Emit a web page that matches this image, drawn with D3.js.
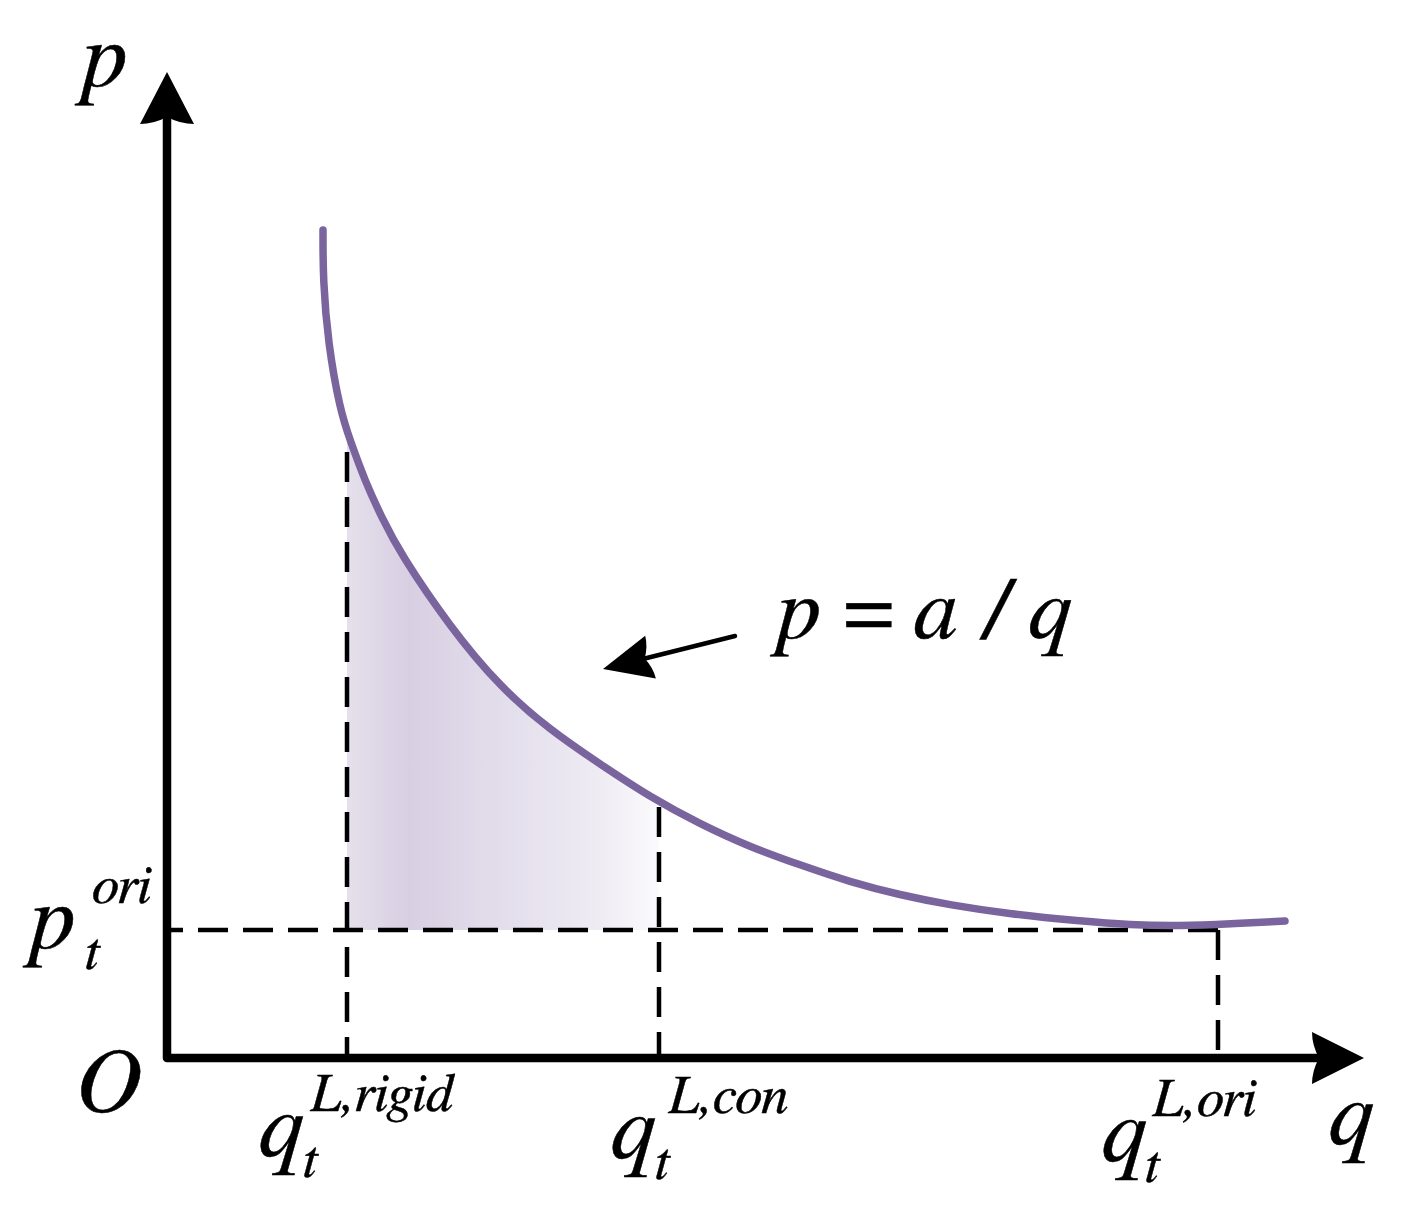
<!DOCTYPE html>
<html>
<head>
<meta charset="utf-8">
<script src="https://cdn.jsdelivr.net/npm/d3@7"></script>
<style>
  body { margin: 0; background: #fff; }
  svg { display: block; }
  .math { font-family: "FreeSerif", "Liberation Serif", "Times New Roman", serif; font-style: italic; fill: #000; stroke: #000; stroke-width: 0.5; }
</style>
</head>
<body>
<div id="chart"></div>
<script>
// demand curve p = a/q (axis units)
const curveQ = [1.56, 1.56, 1.61, 1.73, 1.83, 1.98, 2.15, 2.33, 2.83, 3.33, 3.83, 4.33, 4.83,
                5.33, 5.83, 6.33, 6.83, 7.33, 7.83, 8.43, 9.13, 9.63, 10.13, 10.63, 11.18];
const curveP = [8.28, 7.78, 7.15, 6.48, 6.18, 5.77, 5.40, 5.05, 4.31, 3.71, 3.28, 2.94, 2.61,
                2.34, 2.11, 1.93, 1.76, 1.63, 1.53, 1.44, 1.37, 1.33, 1.32, 1.34, 1.37];

// marked quantities and the original price
const qRigid = 1.80, qCon = 4.92, qOri = 10.51;
const pOri = 1.28;

// vertical guides: where each one sits and where its dashes start
const guideQ = [qRigid, qCon, qOri];
const guideTop = [6.06, 2.51, pOri];

// axis extents (arrow tips)
const axisEnd = [11.97, 9.86];

// annotation arrow: tail and tip
const noteTail = [5.68, 4.22];
const noteTip = [4.36, 3.89];

const W = 1411, H = 1208;

const svg = d3.select("#chart").append("svg")
    .attr("width", W)
    .attr("height", H);

const x = d3.scaleLinear().domain([0, 12]).range([167, 1367]);
const y = d3.scaleLinear().domain([0, 10]).range([1058, 58]);

const curve = curveQ.map((q, i) => ({q: q, p: curveP[i]}));

let defs = svg.append("defs");

// light purple shading, darkest near the left
let grad = defs.append("linearGradient")
    .attr("id", "shade")
    .attr("gradientUnits", "userSpaceOnUse")
    .attr("x1", x(qRigid)).attr("x2", x(qCon))
    .attr("y1", 0).attr("y2", 0);
[[0, "#e5e0ec"], [0.2, "#d8cfe2"], [0.55, "#e5e0ed"], [0.8, "#eeebf3"], [1, "#fbfafc"]]
    .forEach(s => grad.append("stop").attr("offset", s[0]).attr("stop-color", s[1]));

defs.append("clipPath")
    .attr("id", "band")
    .append("rect")
    .attr("x", x(qRigid))
    .attr("width", x(qCon) - x(qRigid))
    .attr("y", 0)
    .attr("height", H);

const smooth = d3.curveBasis;

// shaded area between the two quantities
svg.append("path")
    .datum(curve)
    .attr("clip-path", "url(#band)")
    .attr("fill", "url(#shade)")
    .attr("d", d3.area()
        .x(d => x(d.q))
        .y0(y(pOri))
        .y1(d => y(d.p))
        .curve(smooth));

// dashed guides
const dash = "30,15";
svg.append("line")
    .attr("x1", x(qOri)).attr("x2", x(0))
    .attr("y1", y(pOri)).attr("y2", y(pOri))
    .attr("stroke", "#000")
    .attr("stroke-width", 4.5)
    .attr("stroke-dasharray", dash);

svg.selectAll(".guide")
    .data(guideQ)
    .enter().append("line")
    .attr("class", "guide")
    .attr("x1", d => x(d)).attr("x2", d => x(d))
    .attr("y1", (d, i) => y(guideTop[i]))
    .attr("y2", y(0))
    .attr("stroke", "#000")
    .attr("stroke-width", 4.5)
    .attr("stroke-dasharray", dash);

// the curve
svg.append("path")
    .datum(curve)
    .attr("fill", "none")
    .attr("stroke", "#7a649e")
    .attr("stroke-width", 7.5)
    .attr("stroke-linecap", "round")
    .attr("d", d3.line().x(d => x(d.q)).y(d => y(d.p)).curve(smooth));

// arrowhead with a concave back
function arrowHead(tip, dir, len, half, notch) {
    let n = [-dir[1], dir[0]];
    let b = [tip[0] - len * dir[0], tip[1] - len * dir[1]];
    let c1 = [b[0] + half * n[0], b[1] + half * n[1]];
    let c2 = [b[0] - half * n[0], b[1] - half * n[1]];
    let k1 = [b[0] + 0.5 * half * n[0], b[1] + 0.5 * half * n[1]];
    let k2 = [b[0] - 0.5 * half * n[0], b[1] - 0.5 * half * n[1]];
    let m = [b[0] + notch * dir[0], b[1] + notch * dir[1]];
    return "M" + tip + "L" + c1 + "Q" + k1 + " " + m + "Q" + k2 + " " + c2 + "Z";
}

// axes
const axisW = 8.5;
svg.append("path")
    .attr("fill", "none")
    .attr("stroke", "#000")
    .attr("stroke-width", axisW)
    .attr("stroke-linejoin", "round")
    .attr("d", "M" + x(0) + "," + (y(axisEnd[1]) + 45) +
        "L" + x(0) + "," + y(0) +
        "L" + (x(axisEnd[0]) - 45) + "," + y(0));

svg.append("path")
    .attr("d", arrowHead([x(0), y(axisEnd[1])], [0, -1], 52, 27, 7));
svg.append("path")
    .attr("d", arrowHead([x(axisEnd[0]), y(0)], [1, 0], 52, 26, 7));

// annotation arrow pointing at the curve
let tail = [x(noteTail[0]), y(noteTail[1])];
let tip = [x(noteTip[0]), y(noteTip[1])];
let dx = tip[0] - tail[0], dy = tip[1] - tail[1];
let len = Math.hypot(dx, dy);
let dir = [dx / len, dy / len];
svg.append("line")
    .attr("x1", tail[0]).attr("y1", tail[1])
    .attr("x2", tip[0] - 40 * dir[0]).attr("y2", tip[1] - 40 * dir[1])
    .attr("stroke", "#000")
    .attr("stroke-width", 4.5)
    .attr("stroke-linecap", "round");
svg.append("path")
    .attr("d", arrowHead(tip, dir, 49, 22, 6));

// text
function put(px, py, str, size) {
    return svg.append("text")
        .attr("class", "math")
        .attr("x", px).attr("y", py)
        .attr("font-size", size)
        .text(str);
}

const big = 92, small = 55;

// p_t^ori, q_t^{L,...}: main letter, subscript t, superscript
function subSup(px, py, main, sup, subDx, supDx) {
    put(px, py, main, big);
    put(px + subDx, py + 21, "t", small);
    put(px + supDx, py - 45, sup, small);
}

put(82, 86, "p", big);
put(78, 1111, "O", big);
put(1329, 1144, "q", big);

subSup(30, 948, "p", "ori", 55, 62);
subSup(x(qRigid) - 88, 1156, "q", "L,rigid", 44, 51);
subSup(x(qCon) - 48, 1158, "q", "L,con", 44, 57);
subSup(x(qOri) - 116, 1161, "q", "L,ori", 43, 50);

put(x(noteTail[0]) + 42, y(noteTail[1]) + 2, "p = a / q", 89)
    .attr("xml:space", "preserve");
</script>
</body>
</html>
